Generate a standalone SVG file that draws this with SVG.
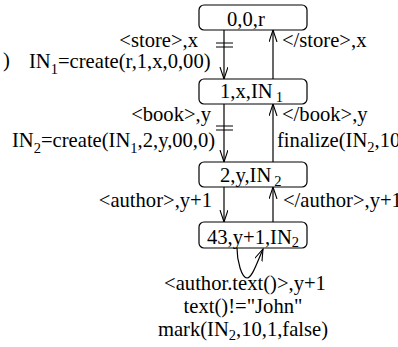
<svg xmlns="http://www.w3.org/2000/svg" width="398" height="347" viewBox="0 0 398 347">
  <style>
    text { font-family: "Liberation Serif", "Times New Roman", serif; font-size: 20.6px; fill: #000; }
    .sub { font-size: 14.5px; }
    .box { fill: #fff; stroke: #000; stroke-width: 1.2; }
    .edge { fill: none; stroke: #000; stroke-width: 1.2; }
    .bar { fill: none; stroke: #000; stroke-width: 1; }
  </style>
  <defs>
    <marker id="arrow" markerUnits="userSpaceOnUse" markerWidth="14" markerHeight="10" refX="12" refY="4" orient="auto">
      <path d="M0,0 L12,4 L0,8" fill="none" stroke="#000" stroke-width="1.1"/>
    </marker>
  </defs>

  <!-- connectors -->
  <g id="connectors">
    <path class="edge" d="M224,30 V79" marker-end="url(#arrow)"/>
    <path class="edge" d="M273,79 V30" marker-end="url(#arrow)"/>
    <path class="edge" d="M224,104 V162" marker-end="url(#arrow)"/>
    <path class="edge" d="M273,162 V104" marker-end="url(#arrow)"/>
    <path class="edge" d="M224,187 V222" marker-end="url(#arrow)"/>
    <path class="edge" d="M273,222 V187" marker-end="url(#arrow)"/>
    <path class="edge" d="M237,248 C237,262 242,278 247,278 C252,278 257,263 263,249" marker-end="url(#arrow)"/>
    <!-- skip marks on the opening-tag edges -->
    <path class="bar" d="M216,43 H233 M216,47 H233"/>
    <path class="bar" d="M216,126 H233 M216,130 H233"/>

    <!-- edge labels -->
    <text x="198" y="47" text-anchor="end">&lt;store&gt;,x</text>
    <text x="29" y="68">IN<tspan class="sub" dy="6">1</tspan><tspan dy="-6">=create(r,1,x,0,00)</tspan></text>
    <text x="3" y="67">)</text>
    <text x="282" y="47">&lt;/store&gt;,x</text>

    <text x="211" y="121" text-anchor="end">&lt;book&gt;,y</text>
    <text x="12" y="147">IN<tspan class="sub" dy="6">2</tspan><tspan dy="-6">=create(IN</tspan><tspan class="sub" dy="6">1</tspan><tspan dy="-6">,2,y,00,0)</tspan></text>
    <text x="282" y="121">&lt;/book&gt;,y</text>
    <text x="277" y="147">finalize(IN<tspan class="sub" dy="5">2</tspan><tspan dy="-5">,10</tspan></text>

    <text x="212" y="207" text-anchor="end">&lt;author&gt;,y+1</text>
    <text x="283" y="207">&lt;/author&gt;,y+1</text>

    <text x="245" y="290" text-anchor="middle">&lt;author.text()&gt;,y+1</text>
    <text x="243" y="313" text-anchor="middle">text()!="John"</text>
    <text x="243" y="336" text-anchor="middle">mark(IN<tspan class="sub" dy="4">2</tspan><tspan dy="-4">,10,1,false)</tspan></text>
  </g>

  <g id="n0">
    <rect class="box" x="199" y="5" width="108" height="25" rx="5"/>
    <text x="227" y="26">0,0,r</text>
  </g>
  <g id="n1">
    <rect class="box" x="199" y="79" width="108" height="25" rx="5"/>
    <text x="220" y="98">1,x,IN<tspan class="sub" dx="3" dy="4">1</tspan></text>
  </g>
  <g id="n2">
    <rect class="box" x="199" y="162" width="108" height="25" rx="5"/>
    <text x="220" y="182">2,y,IN<tspan class="sub" dx="3" dy="4">2</tspan></text>
  </g>
  <g id="n3">
    <rect class="box" x="199" y="222" width="108" height="26" rx="5"/>
    <text x="207" y="244">43,y+1,IN<tspan class="sub" dy="3">2</tspan></text>
  </g>
</svg>
